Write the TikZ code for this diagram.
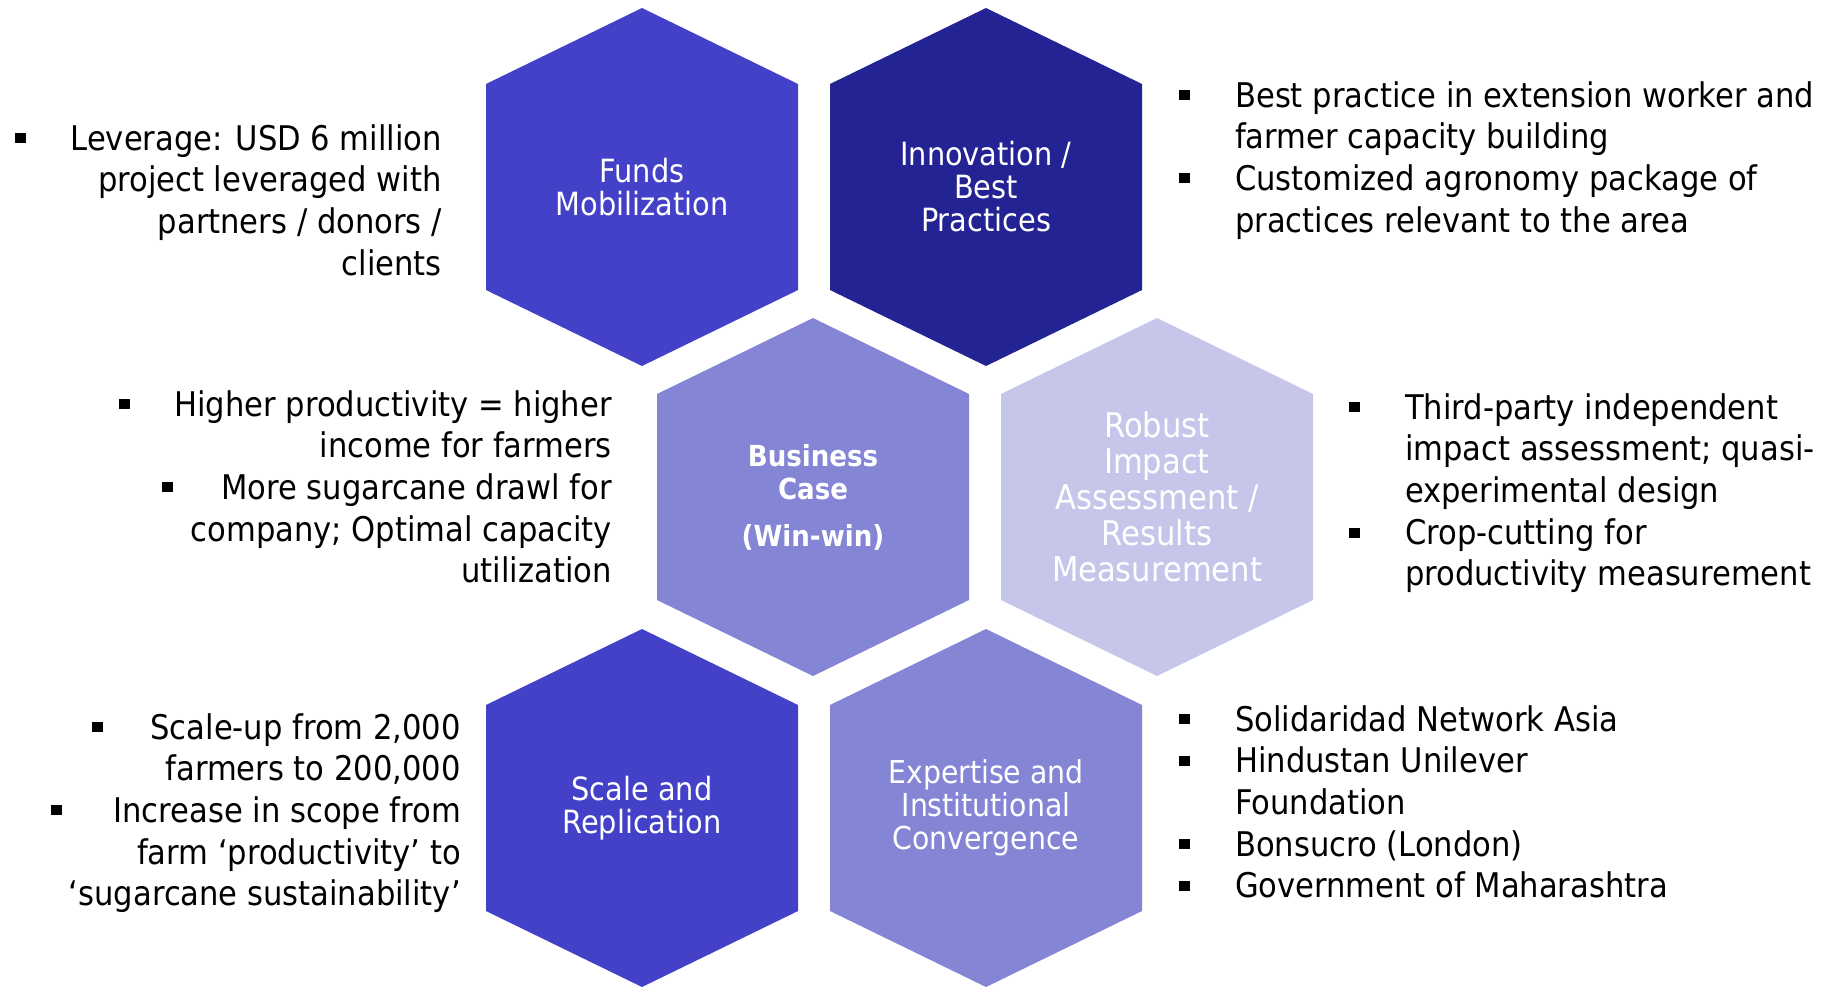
\documentclass[tikz,border=0pt]{standalone}
\usepackage{fontspec}
\setmainfont{DejaVu Sans Condensed}
\usepackage{xcolor}
\definecolor{funds}{HTML}{4241C8}
\definecolor{innov}{HTML}{242393}
\definecolor{wincase}{HTML}{8485D5}
\definecolor{impact}{HTML}{C6C6EA}

\begin{document}
\begin{tikzpicture}[x=1pt, y=-1pt,
    cell/.pic={\fill[#1] (0,-179) -- (156,-103) -- (156,103) -- (0,179) -- (-156,103) -- (-156,-103) -- cycle;},
    hexlabel/.style={text=white, align=center, font=\fontsize{32}{33}\selectfont},
    note/.style={inner sep=0pt, font=\fontsize{34}{41.7}\selectfont},
    sq/.style={fill=black, inner sep=0pt, minimum width=11pt, minimum height=10pt}]
    \useasboundingbox (0,0) rectangle (1836,986);

    % honeycomb
    \pic at (642,187) {cell=funds};
    \pic at (986,187) {cell=innov};
    \pic at (813,497) {cell=wincase};
    \pic at (1157,497) {cell=impact};
    \pic at (642,808) {cell=funds};
    \pic at (986,808) {cell=wincase};

    \node[hexlabel] (funds)  at (642,187) {Funds\\Mobilization};
    \node[hexlabel] (innov)  at (986,187) {Innovation /\\Best\\Practices};
    \node[hexlabel, font=\fontsize{29}{33}\selectfont\bfseries] (case) at (813,497) {Business\\Case\\[14pt](Win-win)};
    \node[hexlabel, font=\fontsize{34}{36}\selectfont] (impact) at (1157,497) {Robust\\Impact\\Assessment /\\Results\\Measurement};
    \node[hexlabel] (scale)  at (642,808) {Scale and\\Replication};
    \node[hexlabel, font=\fontsize{31.5}{33}\selectfont] (expert) at (986,808) {Expertise and\\Institutional\\Convergence};

    % notes beside the cells
    \node[note, anchor=north east, align=right] (fundsnote) at (442,124)
        {Leverage: USD 6 million\\project leveraged with\\partners / donors /\\clients};
    \node[note, anchor=north west, align=left] (innovnote) at (1235,81)
        {Best practice in extension worker and\\farmer capacity building\\Customized agronomy package of\\practices relevant to the area};
    \node[note, anchor=north east, align=right] (casenote) at (612,390)
        {Higher productivity = higher\\income for farmers\\More sugarcane drawl for\\company; Optimal capacity\\utilization};
    \node[note, anchor=north west, align=left] (impactnote) at (1405,393)
        {Third-party independent\\impact assessment; quasi-\\experimental design\\Crop-cutting for\\productivity measurement};
    \node[note, anchor=north east, align=right] (scalenote) at (461,713)
        {Scale-up from 2,000\\farmers to 200,000\\Increase in scope from\\farm ‘productivity’ to\\‘sugarcane sustainability’};
    \node[note, anchor=north west, align=left] (expertnote) at (1235,705)
        {Solidaridad Network Asia\\Hindustan Unilever\\Foundation\\Bonsucro (London)\\Government of Maharashtra};

    % bullets
    \node[sq] (fb1) at (20,138) {};
    \node[sq] (ib1) at (1184,95) {};
    \node[sq] (ib2) at (1184,178) {};
    \node[sq] (cb1) at (124,404) {};
    \node[sq] (cb2) at (167,487) {};
    \node[sq] (rb1) at (1354,407) {};
    \node[sq] (rb2) at (1354,533) {};
    \node[sq] (sb1) at (97,727) {};
    \node[sq] (sb2) at (56,810) {};
    \node[sq] (eb1) at (1184,719) {};
    \node[sq] (eb2) at (1184,761) {};
    \node[sq] (eb3) at (1184,844) {};
    \node[sq] (eb4) at (1184,886) {};
\end{tikzpicture}
\end{document}
